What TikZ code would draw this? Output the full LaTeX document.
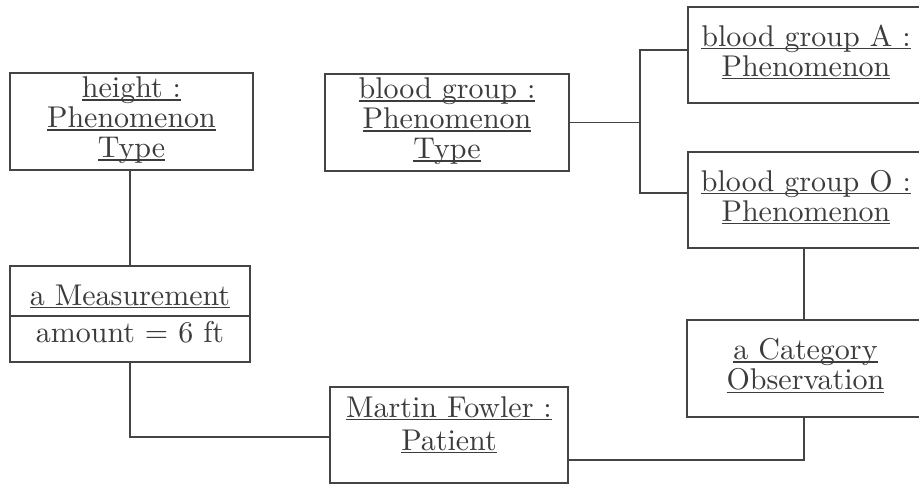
\documentclass[tikz,border=0pt]{standalone}
\definecolor{ink}{HTML}{444444}
\definecolor{txt}{HTML}{3C3C3C}
\newcommand{\ulin}[1]{\setbox0\hbox{#1}\rlap{\rule[-1.05pt]{\wd0}{0.42pt}}\box0}
\newcommand{\bigtxt}[1]{\scalebox{3}{\fontsize{10}{10}\selectfont\begin{tabular}{@{}c@{}}#1\end{tabular}}}
\newcommand{\bigone}[1]{\scalebox{3}{\fontsize{10}{10}\selectfont #1}}
\begin{document}
\begin{tikzpicture}[x=1pt,y=-1pt,
  objbox/.style={draw=ink,line width=1.8pt,rectangle,inner sep=0pt,align=center,text=txt},
  lbl/.style={text=txt,inner sep=0pt},
  conn/.style={draw=ink,line width=1.8pt}]
\useasboundingbox (0,0) rectangle (919,483);
\clip (0,0) rectangle (919,483);
\fill[white] (0,0) rectangle (919,483);
% boxes
\node[objbox,minimum width=243pt,minimum height=97pt] (ht) at (131.5,121.5) {\bigtxt{\ulin{height :}\\\ulin{Phenomenon}\\\ulin{Type}}};
\node[objbox,minimum width=244pt,minimum height=97pt] (bg) at (447,122.5) {\bigtxt{\ulin{blood group :}\\\ulin{Phenomenon}\\\ulin{Type}}};
\node[objbox,minimum width=236pt,minimum height=96pt] (ba) at (806,55) {\bigtxt{\ulin{blood group A :}\\\ulin{Phenomenon}}};
\node[objbox,minimum width=236pt,minimum height=96pt] (bo) at (806,200) {\bigtxt{\ulin{blood group O :}\\\ulin{Phenomenon}}};
\node[objbox,minimum width=237pt,minimum height=97pt] (cat) at (805.5,368.5) {\bigtxt{\ulin{a Category}\\\ulin{Observation}}};
\node[objbox,minimum width=238pt,minimum height=96pt] (mf) at (449,435) {};
\node[lbl] (mft) at (449,427) {\renewcommand{\arraystretch}{1.1}\bigtxt{\ulin{Martin Fowler :}\\\ulin{Patient}}};
\node[objbox,minimum width=240pt,minimum height=96pt] (ms) at (130,314) {};
\node[lbl,anchor=base] (mst) at (130,305) {\bigone{\ulin{a Measurement}}};
\node[lbl,anchor=base] (msa) at (130,342) {\bigone{amount = 6 ft}};
\draw[conn] (ms.west |- 0,316) -- (ms.east |- 0,316);
% connectors
\draw[conn] (ht.south -| 130,0) -- (ms.north);
\draw[conn] (ms.south) |- ([yshift=-2pt]mf.west);
\draw[conn] (bg.east) -- (640,122.5) coordinate (j);
\draw[conn] ([yshift=5pt]ba.west) -| (j) |- ([yshift=7pt]bo.west);
\draw[conn] (bo.south -| 804,0) -- (cat.north -| 804,0);
\draw[conn] (cat.south -| 804,0) |- ([yshift=-25pt]mf.east);
\end{tikzpicture}
\end{document}
